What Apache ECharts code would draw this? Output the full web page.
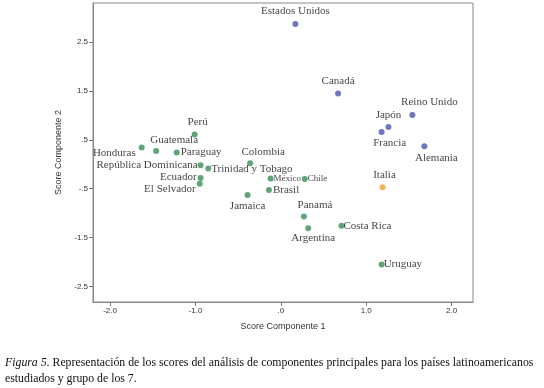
<!DOCTYPE html>
<html><head><meta charset="utf-8">
<script src="https://cdn.jsdelivr.net/npm/echarts@6/dist/echarts.min.js"></script>
<style>html,body{margin:0;padding:0;background:#fff}#c{width:544px;height:388px}</style>
</head><body><div id="c"></div>
<script>
var g7Names = ['Estados Unidos','Canadá','Reino Unido','Japón','Francia','Alemania'];
var g7X = [0.17, 0.67, 1.54, 1.26, 1.18, 1.68];
var g7Y = [2.87, 1.45, 1.01, 0.76, 0.66, 0.37];
var italiaNames = ['Italia'];
var italiaX = [1.19];
var italiaY = [-0.47];
var latNames = ['Perú','Honduras','Guatemala','Paraguay','República Dominicana','Trinidad y Tobago','Ecuador','El Selvador','Colombia','Jamaica','México','Brasil','Chile','Panamá','Argentina','Costa Rica','Uruguay'];
var latX = [-1.01,-1.63,-1.46,-1.22,-0.94,-0.85,-0.94,-0.95,-0.36,-0.39,-0.12,-0.14,0.28,0.27,0.32,0.71,1.18];
var latY = [0.61,0.34,0.27,0.24,-0.02,-0.09,-0.28,-0.40,0.02,-0.63,-0.29,-0.53,-0.30,-1.07,-1.31,-1.26,-2.05];
var xTicks = [-2, -1, 0, 1, 2];
var yTicks = [2.5, 1.5, 0.5, -0.5, -1.5, -2.5];

// label placement (style only)
var labelCfg = {
  'Estados Unidos':{p:'top',o:[0,-1]},
  'Canadá':{p:'top',o:[0,-1]},
  'Reino Unido':{p:'top',o:[17,-1]},
  'Japón':{p:'top',o:[0,0]},
  'Francia':{p:'bottom',o:[8,0]},
  'Alemania':{p:'bottom',o:[12,0]},
  'Italia':{p:'top',o:[2,-1]},
  'Perú':{p:'top',o:[3,-1]},
  'Honduras':{p:'left',o:[0,5]},
  'Guatemala':{p:'top',o:[18,1]},
  'Paraguay':{p:'right',o:[-2,0]},
  'República Dominicana':{p:'left',o:[3,0]},
  'Trinidad y Tobago':{p:'right',o:[-3,0]},
  'Ecuador':{p:'left',o:[2,-1]},
  'El Selvador':{p:'left',o:[2,5]},
  'Colombia':{p:'top',o:[13,0]},
  'Jamaica':{p:'bottom',o:[0,0]},
  'México':{p:'right',o:[-3,0],s:9},
  'Chile':{p:'right',o:[-3,0],s:9},
  'Brasil':{p:'right',o:[-2,0]},
  'Panamá':{p:'top',o:[11,0]},
  'Argentina':{p:'bottom',o:[5,-2]},
  'Costa Rica':{p:'right',o:[-4,0]},
  'Uruguay':{p:'right',o:[-4,0]}
};
function build(names, xs, ys){
  return names.map(function(n,i){
    var c = labelCfg[n] || {p:'top',o:[0,0]};
    return {name:n, value:[xs[i], ys[i]], label:{show:true, position:c.p, offset:c.o, fontSize:c.s||11, distance:3}};
  });
}
var labelBase = {show:true, formatter:'{b}', color:'#111', fontFamily:'Liberation Serif, DejaVu Serif, serif', fontSize:11};
function fmt(v){ return v.toFixed(1).replace(/^(-?)0\./,'$1.'); }
var chart = echarts.init(document.getElementById('c'), null, {renderer:'canvas'});
chart.setOption({
  animation:false,
  backgroundColor:'#fff',
  title:{
    text:'{i|Figura 5}. Representación de los scores del análisis de componentes principales para los países latinoamericanos\nestudiados y grupo de los 7.',
    left:0, top:350,
    textStyle:{fontFamily:'Liberation Serif, DejaVu Serif, serif', fontSize:11.8, fontWeight:'normal', color:'#111', lineHeight:16,
      rich:{i:{fontStyle:'italic', fontFamily:'Liberation Serif, DejaVu Serif, serif', fontSize:11.8, color:'#111', lineHeight:16}}}
  },
  grid:{left:93, right:71, top:3, bottom:86, show:true, borderColor:'#888', borderWidth:1, backgroundColor:'transparent'},
  xAxis:{
    type:'value', min:-2.2, max:2.25,
    name:'Score Componente 1', nameLocation:'middle', nameGap:20,
    nameTextStyle:{fontFamily:'Liberation Sans, sans-serif', fontSize:9, color:'#333'},
    axisLine:{show:true, onZero:false, lineStyle:{color:'#888'}},
    axisTick:{show:true, length:4, customValues:xTicks, lineStyle:{color:'#777'}},
    axisLabel:{customValues:xTicks, fontSize:8, color:'#333', fontFamily:'Liberation Sans, sans-serif', margin:5, formatter:fmt},
    splitLine:{show:false}
  },
  yAxis:{
    type:'value', min:-2.82, max:3.3,
    name:'Score Componente 2', nameLocation:'middle', nameGap:25, nameRotate:90,
    nameTextStyle:{fontFamily:'Liberation Sans, sans-serif', fontSize:9, color:'#333'},
    axisLine:{show:true, onZero:false, lineStyle:{color:'#888'}},
    axisTick:{show:true, length:4, customValues:yTicks, lineStyle:{color:'#777'}},
    axisLabel:{customValues:yTicks, fontSize:8, color:'#333', fontFamily:'Liberation Sans, sans-serif', margin:5, formatter:fmt},
    splitLine:{show:false}
  },
  series:[
    {type:'scatter', name:'G7', symbolSize:6, itemStyle:{color:'#4b55b3'}, label:labelBase, data:build(g7Names,g7X,g7Y)},
    {type:'scatter', name:'Italia', symbolSize:6, itemStyle:{color:'#efa032'}, label:labelBase, data:build(italiaNames,italiaX,italiaY)},
    {type:'scatter', name:'LatAm', symbolSize:6, itemStyle:{color:'#3a8e55'}, label:labelBase, data:build(latNames,latX,latY)}
  ]
});
</script></body></html>
